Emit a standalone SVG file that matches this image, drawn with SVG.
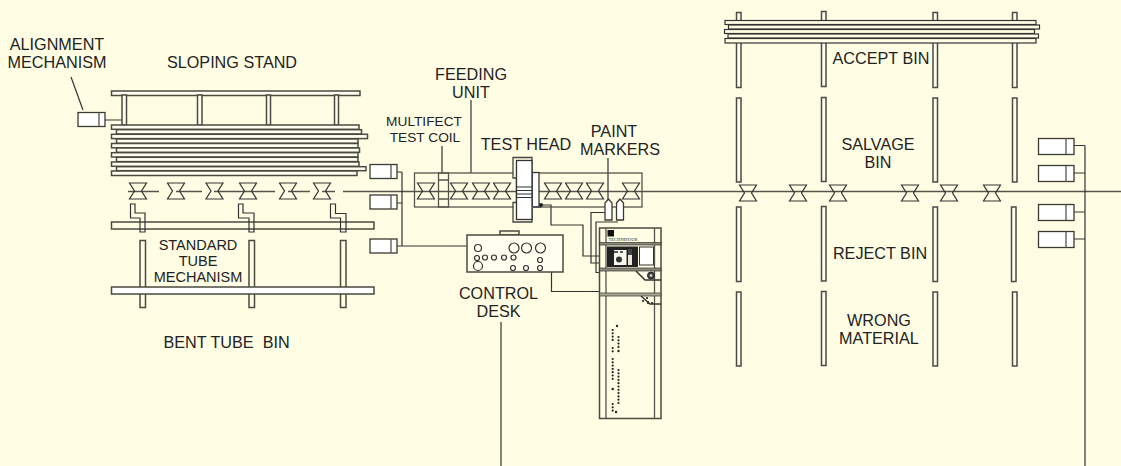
<svg xmlns="http://www.w3.org/2000/svg" width="1121" height="466" viewBox="0 0 1121 466">
<style>
text{font-family:"Liberation Sans",Arial,sans-serif;font-size:16.2px;fill:#222;text-anchor:middle}
.s{font-size:13.7px}
.t{font-size:14.5px}
.b{fill:#fff;stroke:#3a3a30;stroke-width:1.3}
.g{fill:#fffff0;stroke:#4a4a40;stroke-width:1.5}
.w{fill:none;stroke:#333;stroke-width:1.2}
.m{fill:#fffee5;stroke:#333;stroke-width:1.2}
.r{fill:none;stroke:#333;stroke-width:1.2}
.l{fill:none;stroke:#55554a;stroke-width:1.3}
</style>
<defs>
<polygon id="r" class="r" points="-8.500,-8 8.500,-8 3.500,0 8.500,8 -8.500,8 -3.500,0"/>
<g id="act"><rect class="b" x="0" y="0" width="27" height="14"/><line class="l" x1="21" y1="0" x2="21" y2="14"/></g>
<g id="act2"><rect class="b" x="0" y="0" width="35.500" height="16"/><line class="l" x1="27.500" y1="0" x2="27.500" y2="16"/></g>
</defs>
<rect width="1121" height="466" fill="#fffee5"/>
<g id="connectors">
<path class="l" d="M128 191.500H159M176 191.500H202M214 191.500H275M288 191.500H310M322 191.500H335M343 191.500H1121"/>
<path class="w" d="M71 77L83 110M105 120H122M442 146V173M471 100V173M608 158V200"/>
<path class="w" d="M394 172H402M394 203H402M394 246H467M402 172V246"/>
<path class="w" d="M539 205H551V225H583V256H600M605 212.500H591V263H600M618 222H596V272.500H600"/>
<path class="w" d="M551.500 272V291.500H600"/>
<path class="w" d="M501 322V466M1074 145.500H1085M1074 173H1085M1074 212H1085M1074 239H1085M1085 145.500V466"/>
</g>
<g id="alignment-mechanism"><use href="#act" x="78" y="112.500"/><text x="57" y="49.500">ALIGNMENT</text><text x="57" y="67.500">MECHANISM</text></g>
<g id="sloping-stand">
<text x="232" y="67.500">SLOPING STAND</text>
<rect class="g" x="111.500" y="91" width="248.500" height="4.500"/>
<rect class="g" x="122" y="95" width="4.500" height="30"/>
<rect class="g" x="197.500" y="95" width="4.500" height="30"/>
<rect class="g" x="266.500" y="95" width="4" height="30"/>
<rect class="g" x="334.500" y="95" width="4" height="30"/>
<rect class="g" x="111.500" y="125" width="247.500" height="4.300"/>
<rect class="g" x="116.500" y="129.700" width="245" height="4.300"/>
<rect class="g" x="111.500" y="134.300" width="256" height="4.300"/>
<rect class="g" x="116.500" y="139" width="241.500" height="4.300"/>
<rect class="g" x="111.500" y="143.500" width="246.500" height="4.300"/>
<rect class="g" x="116.500" y="148" width="243" height="4.300"/>
<rect class="g" x="111.500" y="152.700" width="246.500" height="4.300"/>
<rect class="g" x="116.500" y="157.300" width="241.500" height="4.300"/>
<rect class="g" x="111.500" y="162" width="247.500" height="4.300"/>
<rect class="g" x="116.500" y="166.700" width="249.500" height="4"/>
<rect class="g" x="111.500" y="171" width="245.500" height="4.500"/>
</g>
<g id="rollers-left">
<use href="#r" x="138" y="191"/><use href="#r" x="176" y="191"/><use href="#r" x="214.500" y="191"/><use href="#r" x="248" y="191"/><use href="#r" x="288" y="191"/><use href="#r" x="322" y="191"/>
</g>
<g id="standard-tube-mechanism">
<rect class="g" x="111.500" y="222" width="262.500" height="7" style="fill:#fffee5"/>
<rect class="g" x="140" y="240.500" width="5.500" height="67" style="fill:#fffee5"/>
<rect class="g" x="249" y="240.500" width="5.500" height="67" style="fill:#fffee5"/>
<rect class="g" x="340.500" y="240.500" width="5.500" height="67" style="fill:#fffee5"/>
<rect x="111.500" y="287" width="262.500" height="7" fill="#fff" stroke="#4a4a40" stroke-width="1.500"/>
<path class="w" d="M130.500 204H135V213H145V232H140V218H130.500Z"/>
<path class="w" d="M238.500 204H243V213H254V232H249V218H238.500Z"/>
<path class="w" d="M330.500 204H335.500V213.500H346V232H340.500V218H330.500Z"/>
<text class="t" x="198" y="249.500">STANDARD</text><text class="t" x="198" y="265.500">TUBE</text><text class="t" x="198" y="281.500">MECHANISM</text>
</g>
<g id="bent-tube-bin"><text x="226.500" y="347.500" xml:space="preserve">BENT TUBE  BIN</text></g>
<g id="actuators-left"><use href="#act" x="370" y="164.500"/><use href="#act" x="370" y="195"/><use href="#act" x="370" y="239"/></g>
<g id="feeding-unit">
<text x="471" y="79.500">FEEDING</text><text x="471" y="97.500">UNIT</text>
<rect class="l" x="414.500" y="173" width="227.500" height="34"/>
<use href="#r" x="426" y="191"/><use href="#r" x="459" y="191"/><use href="#r" x="481" y="191"/><use href="#r" x="502" y="191"/><use href="#r" x="553" y="191"/><use href="#r" x="574" y="191"/><use href="#r" x="595" y="191"/><use href="#r" x="631" y="191"/>
</g>
<g id="test-coil">
<text class="s" x="424" y="126">MULTIFECT</text><text class="s" x="425" y="142">TEST COIL</text>
<rect class="l" x="438.500" y="173" width="10" height="34"/><path class="l" d="M438.500 180H448.500M438.500 199H448.500"/>
</g>
<g id="test-head">
<text x="526" y="149.500">TEST HEAD</text>
<rect x="532" y="172.500" width="7" height="34.500" fill="#fff" stroke="#333" stroke-width="1.300"/>
<path d="M513 157.500H532V222H513V202.500H516.500V178H513Z" fill="#fffee5" stroke="#444" stroke-width="1.300"/>
<rect x="516.500" y="160.500" width="15.500" height="59" fill="#fff" stroke="#333" stroke-width="1.300"/>
<path class="w" d="M516.500 187H532M516.500 190.500H532M516.500 194H532M516.500 197.500H532"/>
<path d="M532 207H541" stroke="#555" stroke-width="2"/>
<circle cx="541" cy="205" r="2" fill="#222"/>
</g>
<g id="paint-markers">
<text x="614" y="136.500">PAINT</text><text x="620" y="154.500">MARKERS</text>
<path class="b" d="M605 203L608.500 199L612 203V220H605Z"/>
<path class="b" d="M616.500 203L620 199L623.500 203V220H616.500Z"/>
</g>
<g id="control-desk">
<text x="498.500" y="298.500">CONTROL</text><text x="498.500" y="316.500">DESK</text>
<rect class="g" style="fill:#f4f4dc" x="500" y="231" width="19" height="4"/>
<rect class="g" x="467" y="235" width="96" height="37"/>
<g class="w">
<circle cx="478" cy="248" r="3.500"/><circle cx="514" cy="248" r="5"/><circle cx="526.500" cy="248" r="5"/><circle cx="540.500" cy="248" r="5"/>
<circle cx="477" cy="258" r="2.500"/><circle cx="485" cy="257.500" r="2.500"/><circle cx="494" cy="257.500" r="2.500"/><circle cx="504" cy="257.500" r="2.500"/><circle cx="513.500" cy="257.500" r="2.500"/><circle cx="540" cy="260" r="2.500"/>
<circle cx="478" cy="266" r="4.500"/><circle cx="513" cy="268" r="2.500"/><circle cx="526" cy="268" r="2.500"/><circle cx="540" cy="268" r="2.500"/>
</g>
</g>
<g id="cabinet">
<rect class="g" style="fill:#fffee5" x="599.500" y="228" width="61.500" height="190.500"/>
<path class="l" d="M606 228V418M654.500 228V418"/>
<rect x="599.500" y="242.500" width="61.500" height="2.500" fill="#8a8a78" stroke="#333" stroke-width=".7"/>
<rect x="599.500" y="268" width="61.500" height="3" fill="#8a8a78" stroke="#333" stroke-width=".7"/>
<rect x="599.500" y="293" width="61.500" height="3" fill="#a8a890" stroke="#444" stroke-width=".8"/>
<path class="w" d="M636 271L645 280H661M641 296L650 304H661" style="stroke-width:1.500"/>
<rect x="607.500" y="230" width="6.500" height="6.500" fill="#111"/>
<text x="623" y="241" style="font-family:'Liberation Serif',serif;font-size:4.600px">TECHNIFOUR</text>
<rect x="607" y="246.500" width="31" height="20.500" fill="#222"/>
<rect x="614" y="250" width="12.500" height="15" fill="#f8f8ee"/>
<path d="M614 252H618M620 252H623" stroke="#222" stroke-width="1.500"/>
<circle cx="619" cy="259.500" r="3" fill="#333"/>
<rect x="628" y="249" width="4" height="16" fill="#e8e8d8"/>
<rect x="628" y="249" width="4" height="6" fill="#444"/>
<rect x="639.500" y="247" width="14" height="18" fill="#fff" stroke="#333"/>
<circle cx="651" cy="275.500" r="3.500" fill="#444" stroke="#222"/><circle cx="651" cy="275.500" r="1.300" fill="#ddd"/>
<path d="M647 297v2M643 300v2M648 301v3M652 302v2" stroke="#333" stroke-width="1.800"/>
<path fill="none" stroke="#222" stroke-width="2.200" stroke-linecap="round" stroke-dasharray="0 3.300" d="M612.700 330V341M612.700 348V352M612.700 359V380M612.700 404V412M618.500 337V347M618.500 370V403"/>
<circle cx="617" cy="326" r="1.200" fill="#222"/><circle cx="618.500" cy="351" r="1.200" fill="#222"/><circle cx="612.700" cy="389" r="1.200" fill="#222"/><circle cx="616" cy="412" r="1.200" fill="#222"/>
</g>
<g id="bins">
<rect class="g" x="736.500" y="12.500" width="4.500" height="75"/><rect class="g" x="821.500" y="11.500" width="4.500" height="75"/><rect class="g" x="933" y="12.500" width="4.500" height="75"/><rect class="g" x="1012.500" y="12.500" width="4.500" height="75"/>
<rect class="g" x="736.500" y="98" width="4.500" height="84"/><rect class="g" x="821.500" y="97.500" width="4.500" height="84"/><rect class="g" x="933" y="98" width="4.500" height="84"/><rect class="g" x="1012.500" y="98" width="4.500" height="84"/>
<rect class="g" x="736.500" y="207" width="4.500" height="74.500"/><rect class="g" x="821.500" y="206.500" width="4.500" height="74.500"/><rect class="g" x="933" y="207" width="4.500" height="74.500"/><rect class="g" x="1011.500" y="207" width="4.500" height="74.500"/>
<rect class="g" x="736.500" y="292" width="4.500" height="74"/><rect class="g" x="821.500" y="291.500" width="4.500" height="74"/><rect class="g" x="933" y="292" width="4.500" height="74"/><rect class="g" x="1012.500" y="292" width="4.500" height="74"/>
<rect class="m" x="725" y="20.500" width="311" height="4"/><rect class="m" x="728.500" y="25" width="311" height="4"/><rect class="m" x="724.500" y="29.500" width="310" height="4"/><rect class="m" x="728" y="34" width="310.500" height="4"/><rect class="m" x="725" y="38.500" width="311" height="4.500"/>
<text x="881" y="63.500">ACCEPT BIN</text><text x="878" y="149.500">SALVAGE</text><text x="878" y="167.500">BIN</text><text x="880" y="258.500">REJECT BIN</text><text x="879" y="325.500">WRONG</text><text x="879" y="343.500">MATERIAL</text>
</g>
<g id="rollers-right">
<use href="#r" x="748" y="193"/><use href="#r" x="798" y="193"/><use href="#r" x="838" y="193"/><use href="#r" x="910" y="193"/><use href="#r" x="949" y="193"/><use href="#r" x="992" y="193"/>
</g>
<g id="actuators-right"><use href="#act2" x="1038.500" y="138.500"/><use href="#act2" x="1038.500" y="165.500"/><use href="#act2" x="1038.500" y="204.500"/><use href="#act2" x="1038.500" y="231.500"/></g>
</svg>
